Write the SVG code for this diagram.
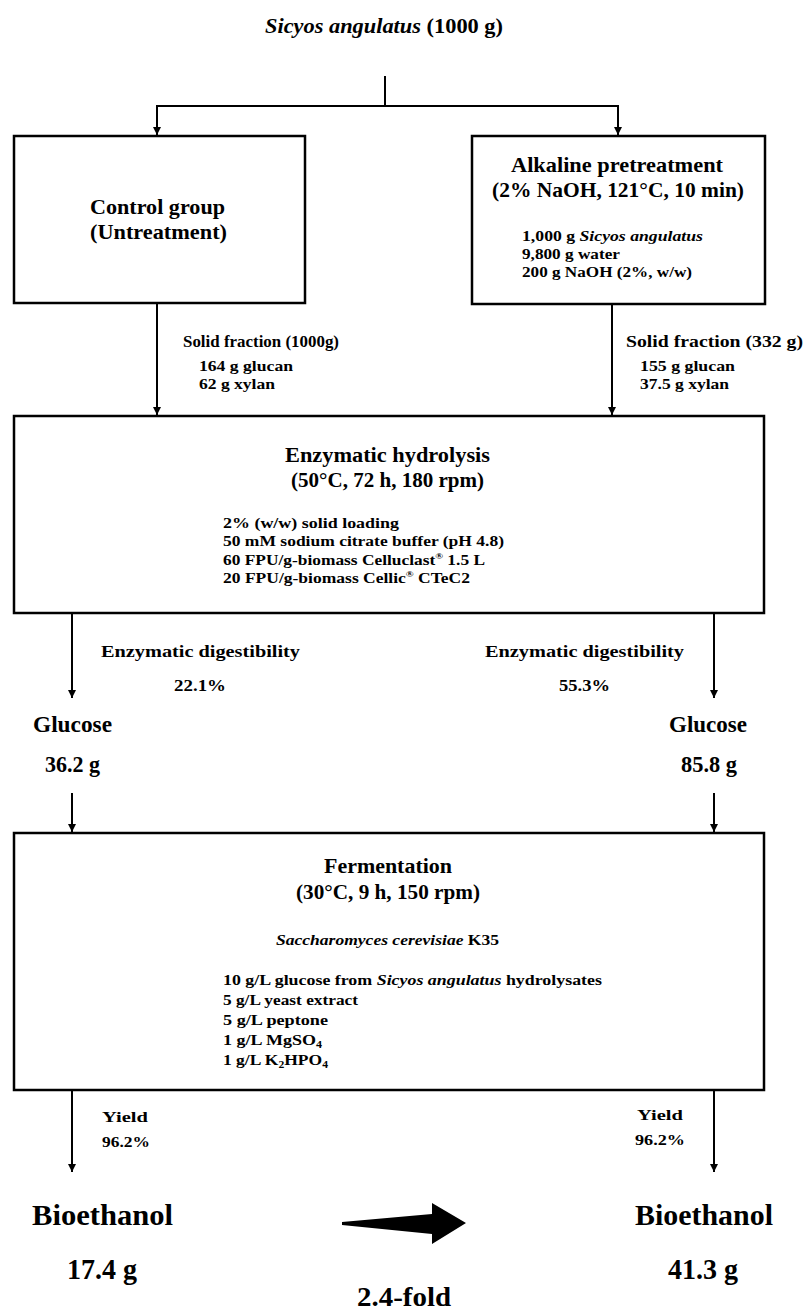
<svg xmlns="http://www.w3.org/2000/svg" width="805" height="1313" viewBox="0 0 805 1313">
<defs>
<marker id="ah" markerUnits="userSpaceOnUse" markerWidth="8" markerHeight="9" refX="8" refY="4" orient="auto">
<path d="M0,0 L8,4 L0,8 z" fill="#000"/>
</marker>
<style>
.box{fill:#fff;stroke:#000;stroke-width:2.5}
.ln{fill:none;stroke:#000;stroke-width:2}
.ar{fill:none;stroke:#000;stroke-width:2;marker-end:url(#ah)}
text{font-family:'Liberation Serif',serif;font-weight:700;fill:#000}
.h{font-size:21px}
.s{font-size:15px}
.m{font-size:17px}
.c{font-size:20px}
.g{font-size:23px}
.b{font-size:30px}
.f{font-size:27px}
.i{font-style:italic}
</style>
</defs>
<rect width="805" height="1313" fill="#fff"/>

<g id="title">
<text x="265" y="33" class="h" textLength="238" lengthAdjust="spacingAndGlyphs"><tspan class="i">Sicyos angulatus</tspan> (1000 g)</text>
</g>

<g id="connectors">
<line class="ln" x1="385" y1="76" x2="385" y2="106"/>
<line class="ln" x1="156" y1="106" x2="619" y2="106"/>
<line class="ar" x1="157" y1="106" x2="157" y2="135"/>
<line class="ar" x1="618" y1="106" x2="618" y2="135"/>
<line class="ar" x1="157" y1="303" x2="157" y2="415"/>
<line class="ar" x1="612" y1="304" x2="612" y2="415"/>
<line class="ar" x1="72" y1="613" x2="72" y2="698"/>
<line class="ar" x1="714" y1="613" x2="714" y2="698"/>
<line class="ar" x1="72" y1="793" x2="72" y2="832"/>
<line class="ar" x1="714" y1="793" x2="714" y2="832"/>
<line class="ar" x1="72" y1="1090" x2="72" y2="1172"/>
<line class="ar" x1="714" y1="1090" x2="714" y2="1172"/>
<polygon points="342,1222 432,1214 432,1203 466,1223 432,1244 432,1234 342,1225" fill="#000"/>
</g>

<g id="control">
<rect class="box" x="14" y="136" width="291" height="167"/>
<text x="90" y="214" class="h" textLength="135" lengthAdjust="spacingAndGlyphs">Control group</text>
<text x="90" y="239" class="h" textLength="137" lengthAdjust="spacingAndGlyphs">(Untreatment)</text>
</g>

<g id="alkaline">
<rect class="box" x="472" y="136" width="293" height="168"/>
<text x="511" y="172" class="h" textLength="212" lengthAdjust="spacingAndGlyphs">Alkaline pretreatment</text>
<text x="492" y="197" class="h" textLength="252" lengthAdjust="spacingAndGlyphs">(2% NaOH, 121°C, 10 min)</text>
<text x="522" y="241" class="s" textLength="181" lengthAdjust="spacingAndGlyphs">1,000 g <tspan class="i">Sicyos angulatus</tspan></text>
<text x="522" y="259" class="s" textLength="98" lengthAdjust="spacingAndGlyphs">9,800 g water</text>
<text x="522" y="277" class="s" textLength="170" lengthAdjust="spacingAndGlyphs">200 g NaOH (2%, w/w)</text>
</g>

<g id="solid-left">
<text x="183" y="347" class="m" textLength="156" lengthAdjust="spacingAndGlyphs">Solid fraction (1000g)</text>
<text x="199" y="371" class="s" textLength="94" lengthAdjust="spacingAndGlyphs">164 g glucan</text>
<text x="199" y="389" class="s" textLength="76" lengthAdjust="spacingAndGlyphs">62 g xylan</text>
</g>

<g id="solid-right">
<text x="626" y="347" class="m" textLength="177" lengthAdjust="spacingAndGlyphs">Solid fraction (332 g)</text>
<text x="640" y="371" class="s" textLength="95" lengthAdjust="spacingAndGlyphs">155 g glucan</text>
<text x="640" y="389" class="s" textLength="89" lengthAdjust="spacingAndGlyphs">37.5 g xylan</text>
</g>

<g id="enzymatic">
<rect class="box" x="14" y="416" width="750" height="197"/>
<text x="285" y="462" class="c" textLength="205" lengthAdjust="spacingAndGlyphs">Enzymatic hydrolysis</text>
<text x="291" y="487" class="c" textLength="193" lengthAdjust="spacingAndGlyphs">(50°C, 72 h, 180 rpm)</text>
<text x="223" y="528" class="s" textLength="176" lengthAdjust="spacingAndGlyphs">2% (w/w) solid loading</text>
<text x="223" y="546" class="s" textLength="281" lengthAdjust="spacingAndGlyphs">50 mM sodium citrate buffer (pH 4.8)</text>
<text x="223" y="565" class="s" textLength="262" lengthAdjust="spacingAndGlyphs">60 FPU/g-biomass Celluclast<tspan font-size="9" dy="-6">®</tspan><tspan dy="6"> 1.5 L</tspan></text>
<text x="223" y="583" class="s" textLength="247" lengthAdjust="spacingAndGlyphs">20 FPU/g-biomass Cellic<tspan font-size="9" dy="-6">®</tspan><tspan dy="6"> CTeC2</tspan></text>
</g>

<g id="digest-left">
<text x="101" y="657" class="m" textLength="199" lengthAdjust="spacingAndGlyphs">Enzymatic digestibility</text>
<text x="174" y="691" class="m" textLength="52" lengthAdjust="spacingAndGlyphs">22.1%</text>
</g>
<g id="digest-right">
<text x="485" y="657" class="m" textLength="199" lengthAdjust="spacingAndGlyphs">Enzymatic digestibility</text>
<text x="559" y="691" class="m" textLength="51" lengthAdjust="spacingAndGlyphs">55.3%</text>
</g>

<g id="glucose-left">
<text x="33" y="732" class="g" textLength="79" lengthAdjust="spacingAndGlyphs">Glucose</text>
<text x="45" y="772" class="g" textLength="55" lengthAdjust="spacingAndGlyphs">36.2 g</text>
</g>
<g id="glucose-right">
<text x="669" y="732" class="g" textLength="78" lengthAdjust="spacingAndGlyphs">Glucose</text>
<text x="681" y="772" class="g" textLength="56" lengthAdjust="spacingAndGlyphs">85.8 g</text>
</g>

<g id="fermentation">
<rect class="box" x="14" y="833" width="750" height="257"/>
<text x="324" y="873" class="c" textLength="128" lengthAdjust="spacingAndGlyphs">Fermentation</text>
<text x="296" y="899" class="c" textLength="184" lengthAdjust="spacingAndGlyphs">(30°C, 9 h, 150 rpm)</text>
<text x="276" y="945" class="s" textLength="223" lengthAdjust="spacingAndGlyphs"><tspan class="i">Saccharomyces cerevisiae</tspan> K35</text>
<text x="223" y="985" class="s" textLength="379" lengthAdjust="spacingAndGlyphs">10 g/L glucose from <tspan class="i">Sicyos angulatus</tspan> hydrolysates</text>
<text x="223" y="1005" class="s" textLength="135" lengthAdjust="spacingAndGlyphs">5 g/L yeast extract</text>
<text x="223" y="1025" class="s" textLength="105" lengthAdjust="spacingAndGlyphs">5 g/L peptone</text>
<text x="223" y="1045" class="s" textLength="99" lengthAdjust="spacingAndGlyphs">1 g/L MgSO<tspan font-size="10" dy="3">4</tspan></text>
<text x="223" y="1065" class="s" textLength="105" lengthAdjust="spacingAndGlyphs">1 g/L K<tspan font-size="10" dy="3">2</tspan><tspan dy="-3">HPO</tspan><tspan font-size="10" dy="3">4</tspan></text>
</g>

<g id="yield-left">
<text x="102" y="1122" class="s" textLength="46" lengthAdjust="spacingAndGlyphs">Yield</text>
<text x="102" y="1147" class="s" textLength="48" lengthAdjust="spacingAndGlyphs">96.2%</text>
</g>
<g id="yield-right">
<text x="637" y="1120" class="s" textLength="46" lengthAdjust="spacingAndGlyphs">Yield</text>
<text x="635" y="1145" class="s" textLength="50" lengthAdjust="spacingAndGlyphs">96.2%</text>
</g>

<g id="bioethanol-left">
<text x="32" y="1225" class="b" textLength="141" lengthAdjust="spacingAndGlyphs">Bioethanol</text>
<text x="67" y="1279" class="b" textLength="70" lengthAdjust="spacingAndGlyphs">17.4 g</text>
</g>
<g id="bioethanol-right">
<text x="635" y="1225" class="b" textLength="138" lengthAdjust="spacingAndGlyphs">Bioethanol</text>
<text x="668" y="1279" class="b" textLength="70" lengthAdjust="spacingAndGlyphs">41.3 g</text>
</g>

<g id="fold">
<text x="357" y="1306" class="f" textLength="94" lengthAdjust="spacingAndGlyphs">2.4-fold</text>
</g>
</svg>
